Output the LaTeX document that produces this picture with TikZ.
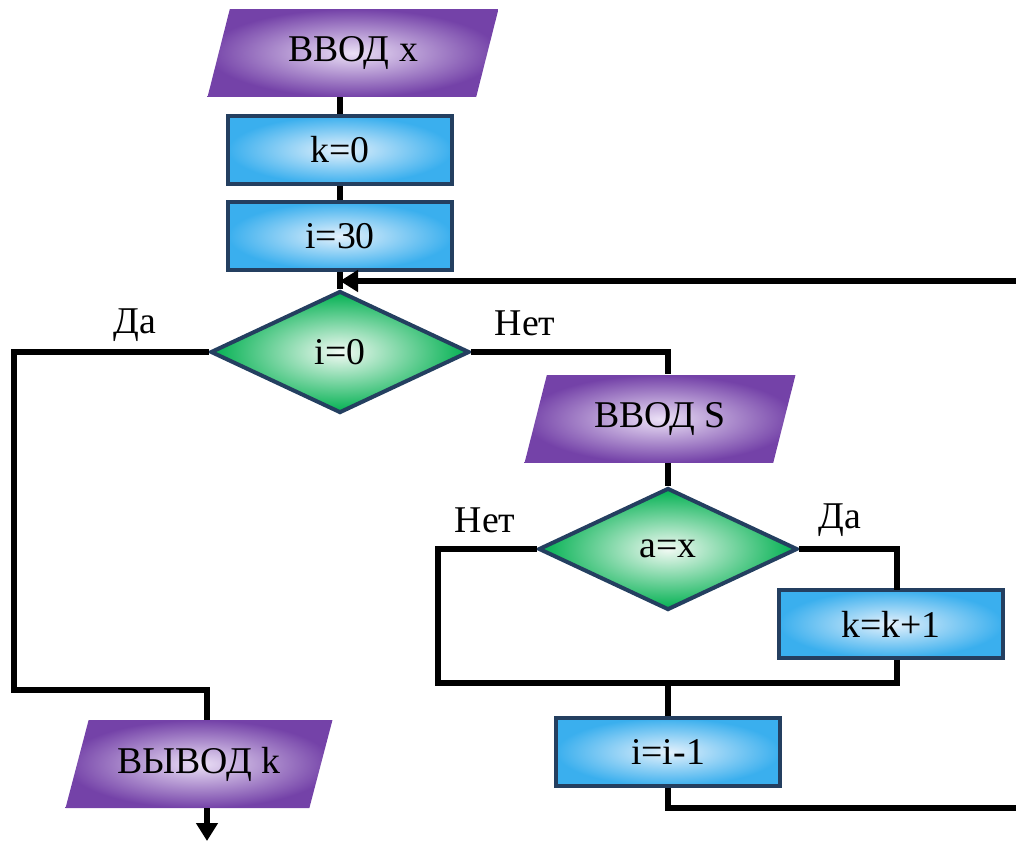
\documentclass[tikz,border=0pt]{standalone}
\usepackage{fontspec}
\setmainfont{Liberation Serif}
\usetikzlibrary{shapes.geometric,arrows.meta}
\definecolor{ioDark}{HTML}{7442A8}
\definecolor{ioLight}{HTML}{EBE0F6}
\definecolor{procDark}{HTML}{3AAFEE}
\definecolor{procLight}{HTML}{E4F1FC}
\definecolor{decDark}{HTML}{00B050}
\definecolor{decLight}{HTML}{F2FAF4}
\definecolor{frame}{HTML}{243F60}
\tikzstyle{io} = [trapezium, trapezium left angle=56, trapezium right angle=124, trapezium stretches body, minimum height=1.76cm, inner sep=0pt, inner color=ioLight, outer color=ioDark, font=\fontsize{21.5}{25}\selectfont]
\tikzstyle{process} = [rectangle, draw=frame, line width=0.08cm, minimum width=4.48cm, minimum height=1.36cm, inner color=procLight, outer color=procDark, font=\fontsize{21.5}{25}\selectfont]
\tikzstyle{decision} = [diamond, draw=frame, line width=0.08cm, minimum width=5.18cm, minimum height=2.44cm, inner sep=0pt, inner color=decLight, outer color=decDark, font=\fontsize{21.5}{25}\selectfont]
\tikzstyle{label} = [font=\fontsize{21.5}{25}\selectfont]
\tikzstyle{line} = [line width=0.11cm]
\tikzstyle{arrow} = [line width=0.11cm,-{Stealth[length=0.36cm,width=0.42cm,inset=0pt]}]
\begin{document}
\begin{tikzpicture}[x=0.02cm, y=-0.02cm]
	\useasboundingbox (0,0) rectangle (1016,841);
	\node (vvodx) at (353,53) [io, minimum width=5.82cm] {ВВОД x};
	\node (kzero) at (340,150) [process] {k=0};
	\node (ithirty) at (340,236) [process] {i=30};
	\node (izero) at (340,352) [decision] {i=0};
	\node (vvods) at (660,419) [io, minimum width=5.42cm] {ВВОД S};
	\node (aeqx) at (668,549) [decision] {a=x};
	\node (kinc) at (891,624) [process] {k=k+1};
	\node (idec) at (668,752) [process] {i=i-1};
	\node (outk) at (199,764) [io, minimum width=5.34cm] {ВЫВОД k};
	\node (yes1) at (135,325) [label] {Да};
	\node (no1) at (525,323) [label] {Нет};
	\node (no2) at (485,520) [label] {Нет};
	\node (yes2) at (840,520) [label] {Да};
	% turning points of the branches
	\coordinate (leftrail) at (14,690);
	\coordinate (outin) at (207,720);
	\coordinate (outend) at (207,841);
	\coordinate (nobend) at (668,374);
	\coordinate (joinleft) at (438,683);
	\coordinate (joinright) at (897,683);
	\coordinate (incin) at (897,590);
	\coordinate (loopout) at (1016,808);
	\coordinate (loopin) at (1016,281);
	% connectors
	\draw[line] (kzero.north) -- (kzero.north |- vvodx.south);
	\draw[line] (ithirty.north) -- (kzero.south);
	\draw[line] (izero.north) -- (ithirty.south);
	\draw[arrow] (loopin) -- (ithirty.south |- loopin);
	\draw[line] (izero.west) -| (leftrail) -| (outin);
	\draw[arrow] (outin |- outk.south) -- (outend);
	\draw[line] (izero.east) -| (nobend);
	\draw[line] (aeqx.north) -- (aeqx.north |- vvods.south);
	\draw[line] (aeqx.west) -| (joinleft) -- (joinright) -- (incin |- kinc.south);
	\draw[line] (aeqx.east) -| (incin);
	\draw[line] (idec.north |- joinleft) -- (idec.north);
	\draw[line] (idec.south) |- (loopout);
\end{tikzpicture}
\end{document}
